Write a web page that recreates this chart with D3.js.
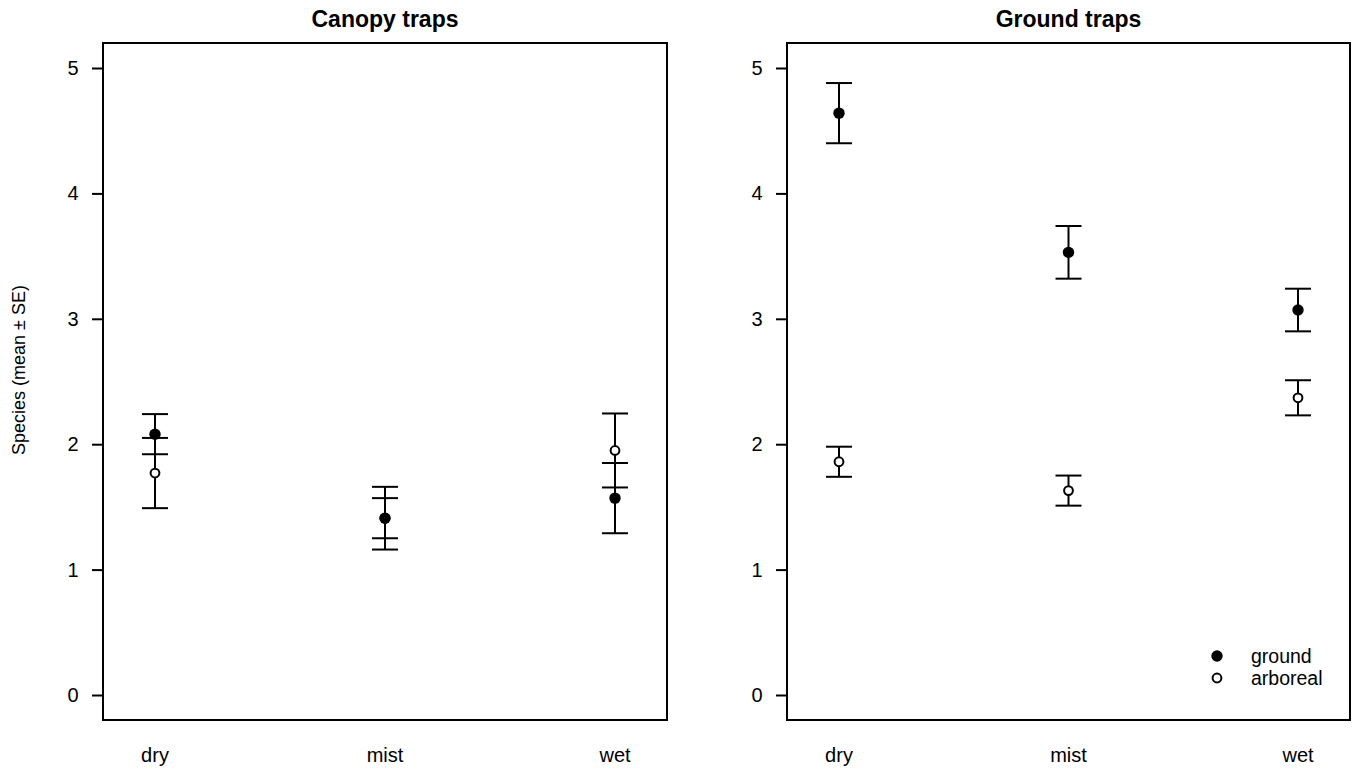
<!DOCTYPE html>
<html>
<head>
<meta charset="utf-8">
<script src="https://cdn.jsdelivr.net/npm/d3@7"></script>
<style>
  body { margin: 0; background: #fff; }
  text { font-family: "Liberation Sans", Arial, sans-serif; fill: #000; }
</style>
</head>
<body>
<div id="chart"></div>
<script>
// categories and tick labels
const habitats = ['dry', 'mist', 'wet'];
const yTicks = [0, 1, 2, 3, 4, 5];
const panelTitles = ['Canopy traps', 'Ground traps'];

// mean and SE, canopy traps
const canopyGroundMean = [2.08, 1.41, 1.57];
const canopyGroundSE = [0.16, 0.16, 0.28];
const canopyArborealMean = [1.77, 1.41, 1.95];
const canopyArborealSE = [0.28, 0.25, 0.295];

// mean and SE, ground traps
const groundGroundMean = [4.64, 3.53, 3.07];
const groundGroundSE = [0.24, 0.21, 0.17];
const groundArborealMean = [1.86, 1.63, 2.37];
const groundArborealSE = [0.12, 0.12, 0.14];

const W = 1352, H = 769;
const svg = d3.select('#chart').append('svg').attr('width', W).attr('height', H);

const boxTop = 43, boxBottom = 720;
const panels = [
    {x0: 103, x1: 667, title: panelTitles[0],
     series: [
        {mean: canopyArborealMean, se: canopyArborealSE, filled: false},
        {mean: canopyGroundMean, se: canopyGroundSE, filled: true}]},
    {x0: 787, x1: 1350, title: panelTitles[1],
     series: [
        {mean: groundArborealMean, se: groundArborealSE, filled: false},
        {mean: groundGroundMean, se: groundGroundSE, filled: true}]}
];

const y = d3.scaleLinear().domain([0, 5]).range([695, 68]);

panels.forEach((p, pi) => {
    const g = svg.append('g');
    const x = d3.scalePoint().domain(habitats).range([p.x0 + 52, p.x1 - 52]);

    g.append('rect').attr('x', p.x0).attr('y', boxTop).attr('width', p.x1 - p.x0).attr('height', boxBottom - boxTop)
        .attr('fill', 'none').attr('stroke', '#000').attr('stroke-width', 2);

    // y axis
    const ax = g.append('g').attr('transform', `translate(${p.x0}, 0)`)
        .call(d3.axisLeft(y).tickValues(yTicks).tickSize(11).tickPadding(14).tickFormat(d3.format('d')));
    ax.select('.domain').remove();
    ax.selectAll('line').attr('stroke', '#000').attr('stroke-width', 2);
    ax.selectAll('text').style('font-size', '20px').attr('text-anchor', 'middle').attr('dx', '-5');

    // x category labels
    g.selectAll('.cat').data(habitats).enter().append('text')
        .attr('x', d => x(d)).attr('y', 762).attr('text-anchor', 'middle')
        .style('font-size', '20px').text(d => d);

    g.append('text').attr('x', (p.x0 + p.x1) / 2).attr('y', 27).attr('text-anchor', 'middle')
        .style('font-size', '23px').style('font-weight', 'bold').text(p.title);

    p.series.forEach(s => {
        const rows = habitats.map((h, i) => ({h: h, m: s.mean[i], e: s.se[i]}));
        const bars = g.append('g').attr('stroke', '#000').attr('stroke-width', 2);
        bars.selectAll('.v').data(rows).enter().append('line')
            .attr('x1', d => x(d.h)).attr('x2', d => x(d.h))
            .attr('y1', d => y(d.m + d.e)).attr('y2', d => y(d.m - d.e));
        bars.selectAll('.t').data(rows).enter().append('line')
            .attr('x1', d => x(d.h) - 13).attr('x2', d => x(d.h) + 13)
            .attr('y1', d => y(d.m + d.e)).attr('y2', d => y(d.m + d.e));
        bars.selectAll('.b').data(rows).enter().append('line')
            .attr('x1', d => x(d.h) - 13).attr('x2', d => x(d.h) + 13)
            .attr('y1', d => y(d.m - d.e)).attr('y2', d => y(d.m - d.e));
        g.selectAll(null).data(rows).enter().append('circle')
            .attr('cx', d => x(d.h)).attr('cy', d => y(d.m))
            .attr('r', s.filled ? 5.7 : 4.4)
            .attr('fill', s.filled ? '#000' : '#fff')
            .attr('stroke', '#000').attr('stroke-width', s.filled ? 0 : 2);
    });
});

// y axis title
svg.append('text').attr('transform', `translate(25, 370) rotate(-90)`).attr('text-anchor', 'middle')
    .style('font-size', '18px').text('Species (mean ± SE)');

// legend in the ground traps panel
const legend = svg.append('g');
const legendItems = [{label: 'ground', filled: true}, {label: 'arboreal', filled: false}];
legend.selectAll('circle').data(legendItems).enter().append('circle')
    .attr('cx', 1217).attr('cy', (d, i) => 656 + i * 22)
    .attr('r', d => d.filled ? 5.7 : 4.4)
    .attr('fill', d => d.filled ? '#000' : '#fff')
    .attr('stroke', '#000').attr('stroke-width', d => d.filled ? 0 : 2);
legend.selectAll('text').data(legendItems).enter().append('text')
    .attr('x', 1251).attr('y', (d, i) => 663 + i * 22)
    .style('font-size', '19.5px').text(d => d.label);
</script>
</body>
</html>
